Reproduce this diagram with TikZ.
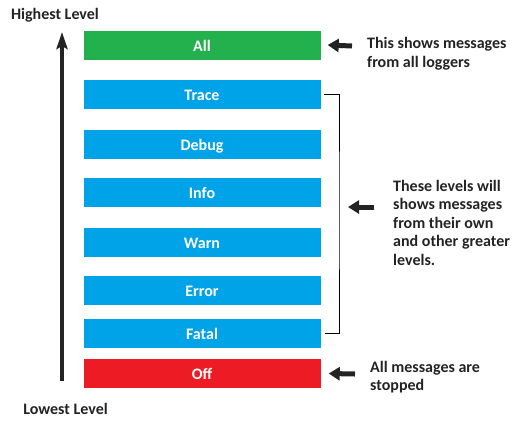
\documentclass[tikz,border=0pt]{standalone}
\usepackage{fontspec}
\setmainfont{Carlito}
\usetikzlibrary{arrows.meta}
\definecolor{allgreen}{RGB}{34,177,76}
\definecolor{levelblue}{RGB}{0,162,232}
\definecolor{offred}{RGB}{237,28,36}
\definecolor{inkgray}{RGB}{35,35,35}
\tikzset{
  level/.style={minimum width=237pt, minimum height=29pt, inner sep=0pt,
    text height=12pt, text depth=0pt,
    text=white, font=\fontsize{16}{19}\selectfont\bfseries},
  note/.style={anchor=north west, align=left, inner sep=0pt, text=inkgray,
    font=\fontsize{16}{18.5}\selectfont\bfseries},
  pointer/.style={line width=5pt, inkgray, -{Triangle[width=13pt,length=11pt]}},
  scale arrow/.style={line width=4pt, inkgray, -{Stealth[width=11pt,length=17pt,inset=3pt]}},
  bracket/.style={line width=0.8pt, black}
}
\begin{document}
\begin{tikzpicture}[x=1pt,y=-1pt]
  \useasboundingbox (0,0) rectangle (519,424);
  % levels
  \node[level, fill=allgreen] (all) at (202,45) {All};
  \node[level, fill=levelblue] (trace) at (202,94.5) {Trace};
  \node[level, fill=levelblue] (debug) at (202,144) {Debug};
  \node[level, fill=levelblue] (info) at (202,192.5) {Info};
  \node[level, fill=levelblue] (warn) at (202,242) {Warn};
  \node[level, fill=levelblue] (error) at (202,290.5) {Error};
  \node[level, fill=levelblue] (fatal) at (202,333.5) {Fatal};
  \node[level, fill=offred] (off) at (202,373.5) {Off};
  % scale
  \node[note, anchor=center] (highest) at (55,15.5) {Highest Level};
  \node[note, anchor=center] (lowest) at (65.5,408.5) {Lowest Level};
  \coordinate (bottom) at (62,381);
  \coordinate (top) at (62,32);
  \draw[scale arrow] (bottom) -- (top);
  % notes
  \node[note, font=\fontsize{16}{19}\selectfont\bfseries] (allnote) at (367,37.5) {This shows messages\\from all loggers};
  \node[note] (levelnote) at (393,180) {These levels will\\shows messages\\from their own\\and other greater\\levels.};
  \node[note] (offnote) at (370,361) {All messages are\\stopped};
  \coordinate (alltail) at (352,46);
  \coordinate (leveltail) at (374,207);
  \coordinate (offtail) at (355,374);
  \coordinate (bracemid) at (339,207);
  \draw[bracket] ([xshift=3pt]trace.east) -| (bracemid) |- ([xshift=4pt]fatal.east);
  \begin{scope}[pointer]
    \draw (alltail) -- ([xshift=7pt]all.east);
    \draw (leveltail) -- ([xshift=9pt]bracemid);
    \draw (offtail) -- ([xshift=8pt]off.east);
  \end{scope}
\end{tikzpicture}
\end{document}
